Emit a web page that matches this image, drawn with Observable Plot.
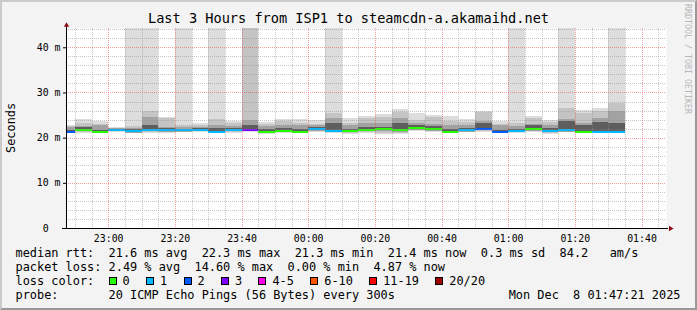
<!DOCTYPE html>
<html><head><meta charset="utf-8">
<script src="https://cdn.jsdelivr.net/npm/d3@7"></script>
<script src="https://cdn.jsdelivr.net/npm/@observablehq/plot@0.6"></script>
<style>
html,body{margin:0;padding:0;background:#f3f3f3;}
#wrap{position:relative;width:697px;height:310px;background:#f3f3f3;overflow:hidden;font-family:"DejaVu Sans Mono",monospace;color:#000;}
#frame{position:absolute;left:0;top:0;width:697px;height:310px;box-sizing:border-box;border-style:solid;border-width:2px;border-color:#cbcbcb #999999 #999999 #cbcbcb;pointer-events:none;}
#chart{position:absolute;left:0;top:0;}
.t{position:absolute;white-space:pre;}
.row{font-size:11.9px;line-height:13.85px;left:15.5px;}
.sw{display:inline-block;width:6px;height:6px;border:1px solid #000;margin-right:6px;vertical-align:baseline;}
.lab{margin-right:16.3px;}
</style></head>
<body>
<div id="wrap">
  <div id="chart"></div>
  <div class="t" id="title" style="left:0;width:697px;text-align:center;top:11.4px;font-size:13.6px;line-height:15.8px"></div>
  <div class="t" id="ylab" style="left:-18.5px;top:121px;width:60px;text-align:center;font-size:11.9px;line-height:13.85px;transform:rotate(-90deg)"></div>
  <div class="t" id="wm" style="left:683px;top:4px;writing-mode:vertical-rl;font-size:8.3px;line-height:9px;color:#b8b8b8"></div>
  <div class="t row" id="r1" style="top:247.3px"></div>
  <div class="t row" id="r2" style="top:261.1px"></div>
  <div class="t row" id="r3" style="top:274.9px"></div>
  <div class="t row" id="r4" style="top:288.7px"></div>
  <div class="t row" id="r4b" style="left:auto;right:16.5px;top:288.7px"></div>
  <div id="frame"></div>
</div>
<script>
// ---- data ----
const titleText = "Last 3 Hours from ISP1 to steamcdn-a.akamaihd.net";
const yLabel = "Seconds";
const watermark = "RRDTOOL / TOBI OETIKER";

const endTimes = ["22:50","22:55","23:00","23:05","23:10","23:15","23:20","23:25","23:30","23:35","23:40","23:45",
  "23:50","23:55","00:00","00:05","00:10","00:15","00:20","00:25","00:30","00:35","00:40","00:45",
  "00:50","00:55","01:00","01:05","01:10","01:15","01:20","01:25","01:30","01:35"];
// outermost smoke (max ping), ms  (50 = beyond top of graph)
const smokeMax = [22.9,24.1,23.6,22.3,50,50,24.5,50,23.2,50,23.6,50,23.4,24.2,24.2,24.0,50,24.3,24.8,25.2,26.4,25.4,25.1,24.7,24.1,26.0,23.6,50,24.8,24.0,50,26.2,26.5,50];
const smokeHigh = [22.6,23.2,23.0,22.2,22.6,25.8,24.4,22.8,22.7,24.2,23.2,50,23.0,23.6,23.2,23.0,25.4,23.2,24.3,24.5,25.7,24.0,24.5,23.7,23.4,25.7,23.0,23.2,24.3,23.4,26.5,25.4,25.8,27.6];
const smokeMid  = [22.3,22.6,22.7,22.1,22.2,24.5,22.4,22.3,22.3,22.7,22.5,24.0,22.5,22.7,22.7,22.7,24.3,22.7,23.2,23.2,24.3,23.2,23.0,22.7,22.7,23.7,22.7,22.5,23.0,22.8,24.2,23.2,24.3,25.8];
const smokeCore = [21.8,22.3,21.8,22.0,21.9,22.7,22.1,22.0,22.1,22.2,22.2,22.7,21.9,22.1,21.9,22.3,23.2,22.0,22.3,22.4,23.2,22.7,22.5,22.0,22.1,23.2,21.8,22.0,22.7,22.1,23.7,22.7,23.4,23.2];
const medianRtt = [21.4,21.9,21.4,21.85,21.5,21.9,21.7,21.7,21.85,21.4,21.85,21.85,21.4,21.6,21.4,22.0,21.6,21.6,21.85,22.0,21.7,22.2,22.0,21.4,21.8,22.1,21.4,21.6,22.0,21.6,21.7,21.4,21.45,21.4];
const smokeMin  = [21.0,21.0,21.0,21.2,21.3,21.0,21.0,21.2,21.2,21.0,21.1,21.2,20.85,21.0,21.0,21.3,21.1,20.9,21.1,20.8,20.8,21.4,21.2,21.0,21.2,21.2,21.0,21.1,21.2,20.8,21.2,21.1,21.0,21.0];
const lostPings = [2,0,0,1,1,1,1,1,1,1,1,3,0,0,0,1,1,0,0,0,0,0,0,0,1,2,2,1,0,1,1,0,1,1];

const lossLabels = ["0","1","2","3","4-5","6-10","11-19","20/20"];
const lossColors = ["#26ff00","#00b8ff","#0059ff","#7e00ff","#ff00ea","#ff5500","#ff0000","#a10000"];
const lossThresholds = [1,2,3,4,6,11,20];

const xTickLabels = ["23:00","23:20","23:40","00:00","00:20","00:40","01:00","01:20","01:40"];
const yTicks = [0,10,20,30,40];
const yMinor = [2,4,6,8,12,14,16,18,22,24,26,28,32,34,36,38,42,44];
const yTop = 44.27;
const rangeStart = "22:47:21", rangeEnd = "01:47:21";

const row1 = "median rtt:  21.6 ms avg  22.3 ms max  21.3 ms min  21.4 ms now  0.3 ms sd  84.2   am/s";
const row2 = "packet loss: 2.49 % avg  14.60 % max  0.00 % min  4.87 % now";
const row3 = "loss color:  ";
const row4 = "probe:       20 ICMP Echo Pings (56 Bytes) every 300s";
const stamp = "Mon Dec  8 01:47:21 2025";

// ---- build ----
function parseT(s) {
  const [h, m, sec] = s.split(":").map(Number);
  return new Date(Date.UTC(2025, 11, h >= 12 ? 7 : 8, h, m, sec || 0));
}
const start = parseT(rangeStart), end = parseT(rangeEnd);
const bars = endTimes.map((s, i) => {
  const t1 = parseT(s);
  return {
    t0: new Date(+t1 - 300000), t1,
    max: smokeMax[i], high: smokeHigh[i], mid: smokeMid[i], core: smokeCore[i],
    median: medianRtt[i], min: smokeMin[i],
    color: lossColors[d3.bisectRight(lossThresholds, lostPings[i])]
  };
});
const majorX = xTickLabels.map(parseT);
const minorX = d3.utcMinute.every(5).range(start, end).filter(d => d.getUTCMinutes() % 20 !== 0);

const crisp = {clip: true, shapeRendering: "crispEdges"};
const chart = Plot.plot({
  width: 697, height: 310,
  marginLeft: 66, marginRight: 31, marginTop: 28, marginBottom: 82,
  style: {fontFamily: "DejaVu Sans Mono", fontSize: "9.9px", background: "transparent", color: "#000"},
  x: {type: "utc", domain: [start, end], ticks: majorX, tickFormat: d3.utcFormat("%H:%M"), tickSize: 0, tickPadding: 6.5, label: null},
  y: {domain: [0, yTop], ticks: yTicks, tickFormat: d => d === 0 ? "0\u00a0\u00a0" : d + " m", tickSize: 3, tickPadding: 3, label: null},
  color: {type: "identity"},
  marks: [
    Plot.frame({fill: "#ffffff", stroke: "none"}),
    Plot.rect(bars, {x1: "t0", x2: "t1", y1: "min", y2: "max", fill: "#dddddd", ...crisp}),
    Plot.rect(bars, {x1: "t0", x2: "t1", y1: "min", y2: "high", fill: "#c4c4c4", insetBottom: 1, ...crisp}),
    Plot.rect(bars, {x1: "t0", x2: "t1", y1: "median", y2: "mid", fill: "#a2a2a2", insetBottom: -2, ...crisp}),
    Plot.rect(bars, {x1: "t0", x2: "t1", y1: "median", y2: "core", fill: "#5e5e5e", insetBottom: -1.5, ...crisp}),
    Plot.ruleY(bars, {x1: "t0", x2: "t1", y: "median", stroke: "color", strokeWidth: 2, ...crisp}),
    Plot.ruleX(minorX, {stroke: "#8f8f8f", strokeOpacity: 0.5, strokeDasharray: "1,1", shapeRendering: "crispEdges"}),
    Plot.ruleY(yMinor, {stroke: "#8f8f8f", strokeOpacity: 0.5, strokeDasharray: "1,1", shapeRendering: "crispEdges"}),
    Plot.ruleX(majorX, {stroke: "#de3030", strokeOpacity: 0.45, strokeDasharray: "1,1", shapeRendering: "crispEdges"}),
    Plot.ruleY(yTicks.filter(d => d > 0), {stroke: "#de3030", strokeOpacity: 0.45, strokeDasharray: "1,1", shapeRendering: "crispEdges"}),
    Plot.ruleY([0], {stroke: "#000", insetLeft: -4, insetRight: -2}),
    Plot.ruleX([start], {stroke: "#000", insetTop: -3}),
    Plot.dot([[start, yTop]], {x: d => d[0], y: d => d[1], symbol: "triangle", r: 2, fill: "#8b1010", stroke: "none", dy: -3.2}),
    Plot.dot([[end, 0]], {x: d => d[0], y: d => d[1], symbol: "triangle", r: 2, fill: "#8b1010", stroke: "none", rotate: 90, dx: 4})
  ]
});
document.getElementById("chart").appendChild(chart);

document.getElementById("title").textContent = titleText;
document.getElementById("ylab").textContent = yLabel;
document.getElementById("wm").textContent = watermark;
document.getElementById("r1").textContent = row1;
document.getElementById("r2").textContent = row2;
document.getElementById("r4").textContent = row4;
document.getElementById("r4b").textContent = stamp;
const r3 = document.getElementById("r3");
r3.appendChild(document.createTextNode(row3));
lossLabels.forEach((lab, i) => {
  const sw = document.createElement("span");
  sw.className = "sw"; sw.style.background = lossColors[i];
  const tx = document.createElement("span");
  tx.className = "lab"; tx.textContent = lab;
  r3.appendChild(sw); r3.appendChild(tx);
});
</script>
</body></html>
